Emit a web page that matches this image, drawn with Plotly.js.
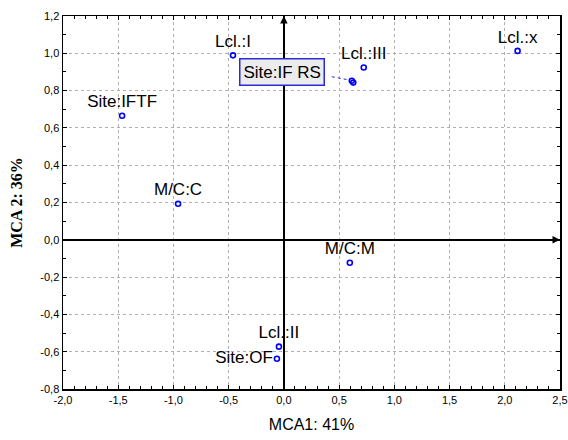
<!DOCTYPE html>
<html>
<head>
<meta charset="utf-8">
<script src="https://cdn.plot.ly/plotly-3.0.1.min.js"></script>
<style>html,body{margin:0;padding:0;background:#fff;}#chart{width:568px;height:440px;}</style>
</head>
<body>
<div id="chart"></div>
<script>
// Category labels and MCA coordinates
var pointLabels = ["Lcl.:I", "Site:IFTF", "M/C:C", "Lcl.:III", "Lcl.:x", "M/C:M", "Lcl.:II", "Site:OF", "", ""];
var mca1 = [-0.461, -1.465, -0.958, 0.723, 2.116, 0.597, -0.045, -0.063, 0.615, 0.628];
var mca2 = [0.989, 0.665, 0.193, 0.924, 1.013, -0.123, -0.573, -0.638, 0.853, 0.843];
var labelPositions = ["top center", "top center", "top center", "top center", "top center", "top center", "top center", "middle left", "top center", "top center"];
var boxedLabel = "Site:IF RS";
var boxedIndex = 8;

var xTickVals = [-2.0, -1.5, -1.0, -0.5, 0.0, 0.5, 1.0, 1.5, 2.0, 2.5];
var xTickText = ["-2,0", "-1,5", "-1,0", "-0,5", "0,0", "0,5", "1,0", "1,5", "2,0", "2,5"];
var yTickVals = [-0.8, -0.6, -0.4, -0.2, 0.0, 0.2, 0.4, 0.6, 0.8, 1.0, 1.2];
var yTickText = ["-0,8", "-0,6", "-0,4", "-0,2", "0,0", "0,2", "0,4", "0,6", "0,8", "1,0", "1,2"];
var xTitle = "MCA1: 41%";
var yTitle = "MCA 2: 36%";

var trace = {
  type: "scatter",
  mode: "markers+text",
  x: mca1,
  y: mca2,
  text: pointLabels,
  textposition: labelPositions,
  textfont: {family: "Liberation Sans, Arial, sans-serif", size: 17, color: "#000"},
  marker: {symbol: "circle-open", size: 5, color: "#0000ff", line: {width: 1.6, color: "#0000ff"}},
  hoverinfo: "skip",
  cliponaxis: false
};

var axisCommon = {
  showline: true, linecolor: "#000", linewidth: 1.5, mirror: "ticks",
  ticks: "inside", ticklen: 4, tickcolor: "#000", tickwidth: 1,
  showgrid: true, gridcolor: "#b0b0b0", gridwidth: 1, griddash: "dot",
  zeroline: true, zerolinecolor: "#000", zerolinewidth: 1.5,
  tickfont: {family: "Liberation Sans, Arial, sans-serif", size: 11, color: "#000"},
  tickmode: "array",
  fixedrange: true
};

var layout = {
  width: 568, height: 440,
  margin: {l: 63, r: 8, t: 16, b: 51},
  paper_bgcolor: "#fff", plot_bgcolor: "#fff",
  showlegend: false,
  xaxis: Object.assign({}, axisCommon, {
    range: [xTickVals[0], xTickVals[xTickVals.length - 1]],
    tickvals: xTickVals, ticktext: xTickText,
    minor: {dtick: 0.1, ticks: "inside", ticklen: 3, tickcolor: "#000", showgrid: false},
    title: {text: xTitle, font: {family: "Liberation Sans, Arial, sans-serif", size: 16, color: "#000"}, standoff: 14}
  }),
  yaxis: Object.assign({}, axisCommon, {
    range: [yTickVals[0], yTickVals[yTickVals.length - 1]],
    tickvals: yTickVals, ticktext: yTickText,
    minor: {dtick: 0.1, ticks: "inside", ticklen: 3, tickcolor: "#000", showgrid: false},
    title: {text: yTitle, font: {family: "Liberation Serif, Times New Roman, serif", size: 16, color: "#000", weight: "bold"}, standoff: 13}
  }),
  annotations: [
    {
      x: mca1[boxedIndex], y: mca2[boxedIndex], xref: "x", yref: "y",
      text: boxedLabel, showarrow: false, xshift: -70, yshift: 9,
      font: {family: "Liberation Sans, Arial, sans-serif", size: 17, color: "#000"},
      bgcolor: "#ececec", bordercolor: "#2a2ad8", borderwidth: 1.5, borderpad: 3
    },
    {
      x: 0, y: yTickVals[yTickVals.length - 1], xref: "x", yref: "y",
      showarrow: true, ax: 0, ay: 10, arrowhead: 2, arrowsize: 1, arrowwidth: 1.5, arrowcolor: "#000", text: ""
    },
    {
      x: xTickVals[xTickVals.length - 1], y: 0, xref: "x", yref: "y",
      showarrow: true, ax: -10, ay: 0, arrowhead: 2, arrowsize: 1, arrowwidth: 1.5, arrowcolor: "#000", text: ""
    }
  ],
  shapes: [
    {
      type: "line", xref: "x", yref: "y",
      xsizemode: "pixel", ysizemode: "pixel",
      xanchor: mca1[boxedIndex], yanchor: mca2[boxedIndex],
      x0: -20, x1: -4, y0: 4, y1: 1,
      line: {color: "#2a2ad8", width: 1, dash: "dot"}
    }
  ]
};

Plotly.newPlot("chart", [trace], layout, {displayModeBar: false, staticPlot: true});
</script>
</body>
</html>
